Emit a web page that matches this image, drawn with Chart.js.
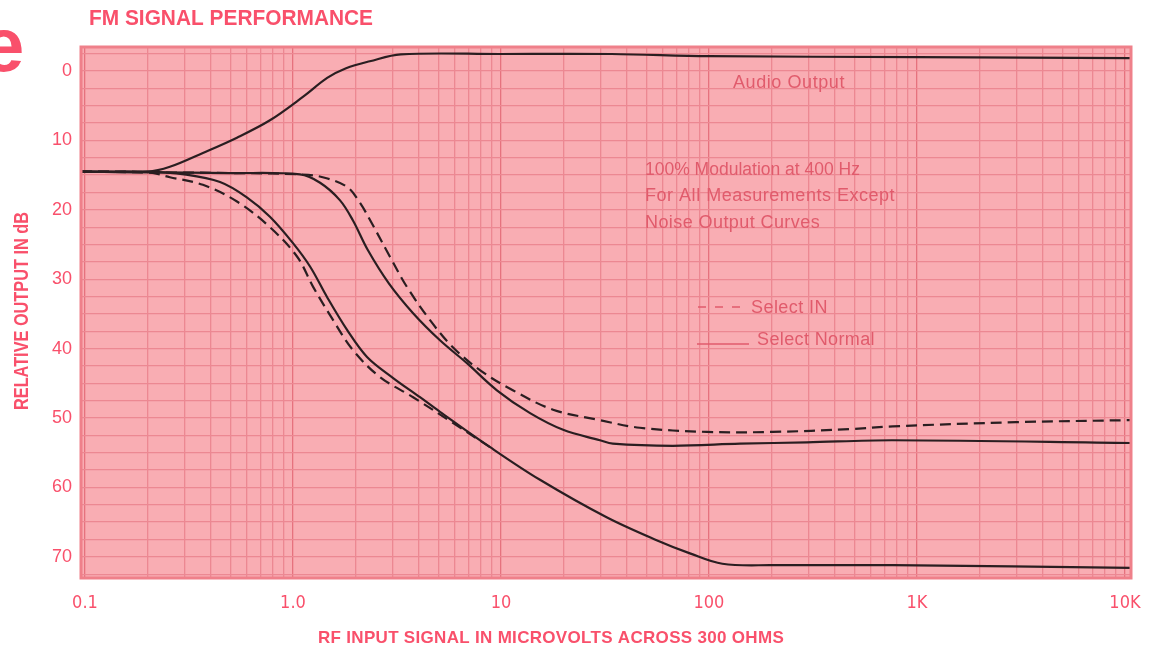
<!DOCTYPE html>
<html>
<head>
<meta charset="utf-8">
<script src="https://cdn.jsdelivr.net/npm/chart.js@4.4.1/dist/chart.umd.min.js"></script>
<style>
  html, body { margin: 0; padding: 0; background: #ffffff; }
  #wrap { width: 1159px; height: 652px; }
</style>
</head>
<body>
<div id="wrap"><canvas id="fmChart" width="1159" height="652"></canvas></div>
<script>
// Axis ranges
const xMin = 0.0957;
const xMax = 10690;
const yMin = -3.46;
const yMax = 73.05;

// Graph paper lines (1..9 in every decade) and labels
const xGridValues = [
    0.1, 0.2, 0.3, 0.4, 0.5, 0.6, 0.7, 0.8, 0.9,
    1, 2, 3, 4, 5, 6, 7, 8, 9,
    10, 20, 30, 40, 50, 60, 70, 80, 90,
    100, 200, 300, 400, 500, 600, 700, 800, 900,
    1000, 2000, 3000, 4000, 5000, 6000, 7000, 8000, 9000,
    10000
];
const xLabelValues = [0.1, 1, 10, 100, 1000, 10000];
const xLabelTexts = ["0.1", "1.0", "10", "100", "1K", "10K"];

const yGridValues = [
    -2.5, 0, 2.5, 5, 7.5, 10, 12.5, 15, 17.5, 20, 22.5, 25, 27.5, 30, 32.5, 35,
    37.5, 40, 42.5, 45, 47.5, 50, 52.5, 55, 57.5, 60, 62.5, 65, 67.5, 70, 72.5
];
const yLabelValues = [0, 10, 20, 30, 40, 50, 60, 70];

// Audio Output
const audioFreq = [0.0957, 0.2, 0.256, 0.369, 0.538, 0.775, 1.12, 1.46, 1.8, 2.34, 3.3, 10, 34, 100, 1000, 10690];
const audioDb = [14.5, 14.5, 13.8, 11.8, 9.6, 7.1, 3.7, 1.0, -0.4, -1.4, -2.4, -2.45, -2.45, -2.15, -2.0, -1.85];

// Noise output, upper pair
const normalHiFreq = [0.0957, 0.2, 0.5, 1.08, 1.35, 1.68, 1.94, 2.29, 2.89, 3.78, 5.09, 6.86, 9.56, 13.8, 19.9, 29.9, 34.5, 67, 141, 296, 766, 10690];
const normalHiDb = [14.5, 14.6, 14.7, 14.9, 16.1, 18.6, 21.5, 25.8, 30.6, 34.9, 38.8, 42.1, 46.0, 49.3, 51.7, 53.2, 53.7, 54.0, 53.7, 53.5, 53.2, 53.6];

const selectInHiFreq = [0.0957, 0.2, 0.5, 1.08, 1.39, 1.82, 2.10, 2.42, 2.93, 3.53, 4.56, 5.87, 7.92, 11.4, 17.8, 29.9, 46.5, 97.6, 202, 475, 766, 3000, 10690];
const selectInHiDb = [14.5, 14.6, 14.7, 14.9, 15.3, 16.7, 19.0, 22.2, 26.8, 31.1, 35.9, 39.8, 43.1, 46.0, 48.8, 50.3, 51.4, 52.0, 52.0, 51.6, 51.2, 50.6, 50.3];

// Noise output, lower pair
const normalLoFreq = [0.0957, 0.2, 0.3, 0.446, 0.6, 0.775, 1.0, 1.21, 1.46, 1.82, 2.27, 3.02, 4.08, 5.09, 8.87, 15.4, 32.2, 56, 81, 116, 202, 766, 10690];
const normalLoDb = [14.5, 14.5, 14.9, 16.0, 18.2, 21.0, 24.8, 28.2, 32.6, 37.3, 41.2, 44.2, 47.0, 49.1, 54.2, 58.9, 64.3, 67.6, 69.5, 71.0, 71.2, 71.2, 71.6];

const selectInLoFreq = [0.0957, 0.2, 0.256, 0.369, 0.538, 0.775, 1.05, 1.25, 1.56, 1.94, 2.62, 3.78, 5.87, 8.87];
const selectInLoDb = [14.5, 14.6, 15.3, 16.4, 18.8, 22.5, 26.8, 31.1, 35.9, 40.2, 44.1, 47.0, 50.7, 54.2];

// Colours and fonts
const pink = "#f9506b";
const notePink = "#e15b6c";
const paperFill = "#f9adb3";
const gridMinor = "#ec8892";
const gridMajor = "#e6727e";
const ink = "#2a1e21";
const condensed = '"DejaVu Sans Condensed", "Liberation Sans", sans-serif';
const sans = '"Liberation Sans", Arial, sans-serif';

function toPoints(xs, ys) {
    return xs.map((x, i) => ({ x: x, y: ys[i] }));
}

function near(a, b) {
    return Math.abs(a - b) < 1e-9 * Math.max(1, Math.abs(b));
}

function curve(xs, ys, dashed) {
    return {
        data: toPoints(xs, ys),
        borderColor: ink,
        borderWidth: 2.2,
        borderDash: dashed ? [11, 6] : [],
        pointRadius: 0,
        tension: 0.35,
        fill: false,
    };
}

// Draw text squeezed or spread to a given width
function drawFitted(ctx, text, x, y, font, color, align, width) {
    ctx.save();
    ctx.font = font;
    ctx.fillStyle = color;
    ctx.textAlign = align || "left";
    ctx.textBaseline = "alphabetic";
    const natural = ctx.measureText(text).width;
    if (width && natural > width) {
        ctx.fillText(text, x, y, width);
    } else {
        if (width) {
            ctx.letterSpacing = ((width - natural) / text.length).toFixed(2) + "px";
        }
        ctx.fillText(text, x, y);
    }
    ctx.restore();
}

// Paper background, border and printed notes
const paperPlugin = {
    id: "paper",
    beforeDraw(chart) {
        const { ctx, chartArea: a } = chart;
        ctx.save();
        ctx.fillStyle = paperFill;
        ctx.fillRect(a.left, a.top, a.right - a.left, a.bottom - a.top);
        ctx.restore();
    },
    afterDraw(chart) {
        const { ctx, chartArea: a } = chart;

        ctx.save();
        ctx.strokeStyle = "#ef808a";
        ctx.lineWidth = 3;
        ctx.strokeRect(a.left, a.top, a.right - a.left, a.bottom - a.top);
        ctx.restore();

        // Heading and cut-off letter
        drawFitted(ctx, "e", -18, 71, "bold 76px " + sans, pink);
        drawFitted(ctx, "FM SIGNAL PERFORMANCE", 89, 25, "bold 22px " + sans, pink, "left", 284);

        // Axis titles
        ctx.save();
        ctx.translate(28, 311);
        ctx.rotate(-Math.PI / 2);
        drawFitted(ctx, "RELATIVE OUTPUT IN dB", 0, 0, "bold 20px " + sans, pink, "center", 198);
        ctx.restore();
        drawFitted(ctx, "RF INPUT SIGNAL IN MICROVOLTS ACROSS 300 OHMS", 551, 643, "bold 17px " + sans, pink, "center", 466);

        // Notes on the paper
        drawFitted(ctx, "Audio Output", 733, 88, "18px " + sans, notePink, "left", 112);
        drawFitted(ctx, "100% Modulation at 400 Hz", 645, 175, "18px " + sans, notePink, "left", 215);
        drawFitted(ctx, "For All Measurements Except", 645, 201, "18px " + sans, notePink, "left", 250);
        drawFitted(ctx, "Noise Output Curves", 645, 228, "18px " + sans, notePink, "left", 175);
        drawFitted(ctx, "Select IN", 751, 313, "18px " + sans, notePink, "left", 77);
        drawFitted(ctx, "Select Normal", 757, 345, "18px " + sans, notePink, "left", 118);

        // Legend samples
        ctx.save();
        ctx.strokeStyle = notePink;
        ctx.lineWidth = 1.5;
        ctx.setLineDash([8, 9]);
        ctx.beginPath();
        ctx.moveTo(698, 307);
        ctx.lineTo(745, 307);
        ctx.stroke();
        ctx.setLineDash([]);
        ctx.beginPath();
        ctx.moveTo(697, 344);
        ctx.lineTo(749, 344);
        ctx.stroke();
        ctx.restore();
    },
};

const ctx = document.getElementById("fmChart").getContext("2d");

new Chart(ctx, {
    type: "line",
    data: {
        datasets: [
            curve(audioFreq, audioDb, false),
            curve(normalHiFreq, normalHiDb, false),
            curve(selectInHiFreq, selectInHiDb, true),
            curve(normalLoFreq, normalLoDb, false),
            curve(selectInLoFreq, selectInLoDb, true),
        ],
    },
    options: {
        responsive: false,
        animation: false,
        layout: { padding: { left: 0, right: 28, top: 47, bottom: 0 } },
        plugins: {
            legend: { display: false },
            tooltip: { enabled: false },
        },
        scales: {
            x: {
                type: "logarithmic",
                min: xMin,
                max: xMax,
                afterBuildTicks: (scale) => {
                    scale.ticks = xGridValues.map((v) => ({ value: v }));
                },
                afterFit: (scale) => {
                    scale.height = 74;
                },
                border: { display: false },
                grid: {
                    drawTicks: false,
                    lineWidth: 1.3,
                    color: (c) => (xLabelValues.some((v) => near(c.tick.value, v)) ? gridMajor : gridMinor),
                },
                ticks: {
                    autoSkip: false,
                    maxRotation: 0,
                    padding: 15,
                    color: pink,
                    font: { family: condensed, size: 18 },
                    callback: (value) => {
                        const i = xLabelValues.findIndex((v) => near(value, v));
                        return i >= 0 ? xLabelTexts[i] : "";
                    },
                },
            },
            y: {
                type: "linear",
                reverse: true,
                min: yMin,
                max: yMax,
                afterBuildTicks: (scale) => {
                    scale.ticks = yGridValues.map((v) => ({ value: v }));
                },
                afterFit: (scale) => {
                    scale.width = 81;
                },
                border: { display: false },
                grid: {
                    drawTicks: false,
                    lineWidth: 1.3,
                    color: gridMinor,
                },
                ticks: {
                    autoSkip: false,
                    padding: 9,
                    color: pink,
                    font: { family: sans, size: 18 },
                    callback: (value) => (yLabelValues.includes(value) ? String(value) : ""),
                },
            },
        },
    },
    plugins: [paperPlugin],
});
</script>
</body>
</html>
